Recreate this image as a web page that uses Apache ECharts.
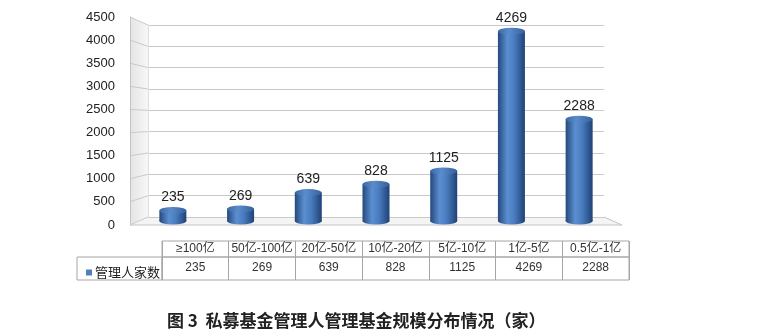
<!DOCTYPE html>
<html>
<head>
<meta charset="utf-8">
<script src="https://cdn.jsdelivr.net/npm/echarts@6/dist/echarts.min.js"></script>
<style>
html,body{margin:0;padding:0;background:#fff;}
#c{width:783px;height:335px;}
</style>
</head>
<body>
<div id="c"></div>
<script>
// ---- data ----
var categories = ['≥100亿', '50亿-100亿', '20亿-50亿', '10亿-20亿', '5亿-10亿', '1亿-5亿', '0.5亿-1亿'];
var managerCounts = [235, 269, 639, 828, 1125, 4269, 2288];
var seriesName = '管理人家数';
var yMin = 0, yMax = 4500, yStep = 500;
var titleText = '图 3  私募基金管理人管理基金规模分布情况（家）';

// ---- style ----
var FONT = "'Liberation Sans', 'Noto Sans CJK SC', sans-serif";
var CJK = "'Noto Sans CJK SC', sans-serif";
var lineGray = '#a6a6a6';
var gridGray = '#c9c9c9';
var barGrad = new echarts.graphic.LinearGradient(0, 0, 1, 0, [
  {offset: 0, color: '#24497c'},
  {offset: 0.35, color: '#5b8fd1'},
  {offset: 0.6, color: '#4a7dc0'},
  {offset: 1, color: '#1f4275'}
]);
var topGrad = new echarts.graphic.LinearGradient(0, 0, 1, 0, [
  {offset: 0, color: '#3a68a6'},
  {offset: 0.4, color: '#5a8ccc'},
  {offset: 1, color: '#35619c'}
]);

var chart = echarts.init(document.getElementById('c'), null, {renderer: 'canvas'});

function hiddenVal(gi) { return {type: 'value', gridIndex: gi, min: 0, max: 1, show: false}; }

var option = {
  animation: false,
  backgroundColor: '#fff',
  title: {
    text: titleText, left: 162, top: 307,
    textStyle: {fontFamily: CJK, fontSize: 17, fontWeight: 'bold', color: '#222'}
  },
  legend: {
    data: [{name: seriesName, itemStyle: {color: '#4f81bd'}}],
    left: 81, top: 261, icon: 'rect', itemWidth: 6, itemHeight: 6, itemGap: 4,
    textStyle: {fontFamily: CJK, fontSize: 13, color: '#222', padding: [0, 0, 0, -2]},
    selectedMode: false
  },
  grid: [
    {left: 139, right: 170, top: 21, height: 200},          // 0 bars
    {left: 130, right: 635, top: 17, height: 208},          // 1 front axis labels
    {left: 148, right: 179, top: 25, height: 192},          // 2 back wall
    {left: 162, width: 467, top: 241, height: 16, show: true, borderColor: lineGray, borderWidth: 1}, // 3 header
    {left: 162, width: 467, top: 257, height: 23, show: true, borderColor: lineGray, borderWidth: 1}, // 4 values
    {left: 77, width: 85, top: 257, height: 23, show: true, borderColor: lineGray, borderWidth: 1}    // 5 legend cell
  ],
  xAxis: [
    {type: 'category', gridIndex: 0, data: categories, show: false},
    hiddenVal(1),
    hiddenVal(2),
    {type: 'category', gridIndex: 3, data: categories, position: 'bottom',
      axisLine: {show: false},
      axisTick: {show: true, inside: true, length: 16, interval: 0, lineStyle: {color: lineGray}},
      axisLabel: {inside: true, margin: 2, interval: 0, fontFamily: FONT, fontSize: 12, color: '#333'}},
    {type: 'category', gridIndex: 4, data: managerCounts.map(String), position: 'bottom',
      axisLine: {show: false},
      axisTick: {show: true, inside: true, length: 23, interval: 0, lineStyle: {color: lineGray}},
      axisLabel: {inside: true, margin: 6, interval: 0, fontFamily: FONT, fontSize: 12, color: '#333'}},
    hiddenVal(5)
  ],
  yAxis: [
    {type: 'value', gridIndex: 0, min: yMin, max: yMax, show: false},
    {type: 'value', gridIndex: 1, min: yMin, max: yMax, interval: yStep,
      axisLine: {show: true, lineStyle: {color: '#c4c4c4'}},
      axisTick: {show: false}, splitLine: {show: false},
      axisLabel: {margin: 15, fontFamily: FONT, fontSize: 13, color: '#222',
        formatter: function (v) { return String(v); }}},
    {type: 'value', gridIndex: 2, min: yMin, max: yMax, interval: yStep,
      axisLine: {show: true, lineStyle: {color: '#dedede'}},
      axisTick: {show: false}, axisLabel: {show: false},
      splitLine: {show: true, lineStyle: {color: gridGray, width: 1}}},
    hiddenVal(3), hiddenVal(4), hiddenVal(5)
  ],
  series: [
    {
      type: 'pictorialBar', name: seriesName, xAxisIndex: 0, yAxisIndex: 0,
      data: managerCounts, symbol: 'circle', symbolSize: [27, 7], symbolPosition: 'start',
      symbolOffset: [0, '50%'], itemStyle: {color: barGrad}, z: 2, legendHoverLink: false
    },
    {
      type: 'bar', name: seriesName, xAxisIndex: 0, yAxisIndex: 0,
      data: managerCounts, barWidth: 27, itemStyle: {color: barGrad}, z: 3,
      label: {show: true, position: 'top', distance: 6, fontFamily: FONT, fontSize: 14, color: '#222'}
    },
    {
      type: 'pictorialBar', name: seriesName, xAxisIndex: 0, yAxisIndex: 0,
      data: managerCounts, symbol: 'circle', symbolSize: [27, 7], symbolPosition: 'end',
      symbolOffset: [0, '-50%'], itemStyle: {color: topGrad}, z: 4
    }
  ]
};
chart.setOption(option);

// ---- 3D wall / floor decoration derived from the axes ----
var els = [];
var frontTop = chart.convertToPixel({gridIndex: 1}, [0, yMax]);
var frontBot = chart.convertToPixel({gridIndex: 1}, [0, yMin]);
var backTop = chart.convertToPixel({gridIndex: 2}, [0, yMax]);
var backBot = chart.convertToPixel({gridIndex: 2}, [0, yMin]);
var backBotR = chart.convertToPixel({gridIndex: 2}, [1, yMin]);
var depth = backTop[0] - frontTop[0];
els.push({
  type: 'polygon', z: -1, silent: true,
  shape: {points: [frontTop, backTop, backBot, frontBot]},
  style: {fill: new echarts.graphic.LinearGradient(0, 0, 1, 0, [
    {offset: 0, color: '#e4e4e4'}, {offset: 1, color: '#f7f7f7'}])}
});
els.push({
  type: 'polygon', z: -1, silent: true,
  shape: {points: [frontBot, backBot, backBotR, [backBotR[0] + depth, frontBot[1]]]},
  style: {fill: '#f4f4f4'}
});
for (var v = yMin; v <= yMax; v += yStep) {
  var f = chart.convertToPixel({gridIndex: 1}, [0, v]);
  var b = chart.convertToPixel({gridIndex: 2}, [0, v]);
  els.push({type: 'line', silent: true, shape: {x1: f[0], y1: f[1], x2: b[0], y2: b[1]},
    style: {stroke: gridGray, lineWidth: 1}});
}
els.push({type: 'line', silent: true,
  shape: {x1: frontBot[0], y1: frontBot[1], x2: backBotR[0] + depth, y2: frontBot[1]},
  style: {stroke: '#c4c4c4', lineWidth: 1}});
els.push({type: 'line', silent: true,
  shape: {x1: backBotR[0], y1: backBotR[1], x2: backBotR[0] + depth, y2: frontBot[1]},
  style: {stroke: '#c4c4c4', lineWidth: 1}});
chart.setOption({graphic: {elements: els}});
</script>
</body>
</html>
